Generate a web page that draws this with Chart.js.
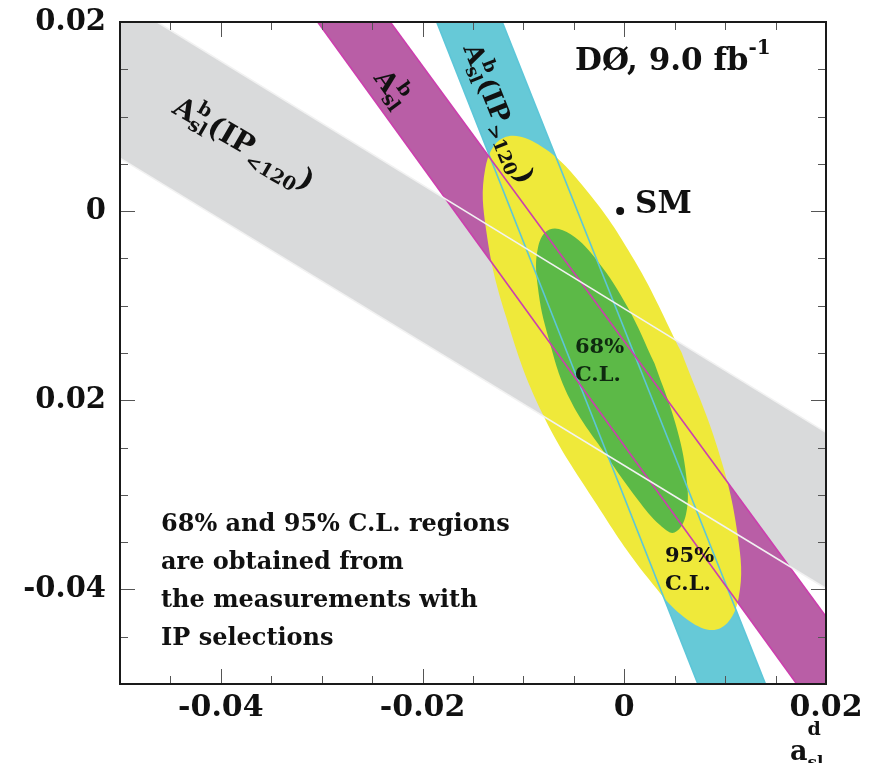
<!DOCTYPE html>
<html>
<head>
<meta charset="utf-8">
<title>a_sl^d vs a_sl^s</title>
<script src="https://cdn.jsdelivr.net/npm/chart.js@4.4.0/dist/chart.umd.min.js"></script>
<style>
  html, body { margin: 0; padding: 0; background: #fff; }
  #wrap { width: 878px; height: 763px; }
</style>
</head>
<body>
<div id="wrap"><canvas id="chart" width="878" height="763"></canvas></div>
<script>
// axis labels (major ticks); minor ticks every 0.005
const xTickValues = [-0.04, -0.02, 0, 0.02];
const xTickLabels = ['-0.04', '-0.02', '0', '0.02'];
const yTickValues = [0.02, 0, -0.02, -0.04];
const yTickLabels = ['0.02', '0', '0.02', '-0.04'];

// band edges, [x, y] where each edge leaves the frame
const ipLowUpper = [[-0.05, 0.0224], [0.02, -0.0234]];
const ipLowLower = [[-0.05, 0.0056], [0.02, -0.0399]];
const aslLeft = [[-0.0304, 0.02], [0.0171, -0.05]];
const aslRight = [[-0.0232, 0.02], [0.0249, -0.05]];
const ipHighLeft = [[-0.0186, 0.02], [0.0073, -0.05]];
const ipHighRight = [[-0.0121, 0.02], [0.0140, -0.05]];

// 95% C.L. contour
const cl95X = [0.00567, 0.00103, -0.00394, -0.00851, -0.01196, -0.01378, -0.01368, -0.01170,
               -0.00811, -0.00270, 0.00235, 0.00652, 0.00952, 0.01134, 0.01124, 0.00926];
const cl95Y = [-0.01493, -0.00524, 0.00246, 0.00704, 0.00776, 0.00454, -0.00213, -0.01125,
               -0.02142, -0.03107, -0.03879, -0.04338, -0.04410, -0.04089, -0.03421, -0.02510];

// 68% C.L. contour
const cl68X = [0.00300, 0.00031, -0.00263, -0.00532, -0.00741, -0.00856, -0.00858, -0.00748,
               -0.00543, -0.00181, 0.00136, 0.00354, 0.00498, 0.00612, 0.00614, 0.00505];
const cl68Y = [-0.01611, -0.01011, -0.00532, -0.00245, -0.00194, -0.00387, -0.00795, -0.01354,
               -0.01981, -0.02579, -0.03054, -0.03319, -0.03398, -0.03206, -0.02797, -0.02238];

// standard model prediction
const smPoint = [-0.00041, 0.00002];

const SERIF = 'DejaVu Serif';
function font(size) { return 'bold ' + size + 'px "' + SERIF + '", serif'; }

function pts(list) { return list.map(p => ({x: p[0], y: p[1]})); }
function band(a, b) { return pts(a.concat(b.slice().reverse())); }
function contour(xs, ys) {
  const p = xs.map((x, i) => ({x: x, y: ys[i]}));
  p.push(p[0]);
  return p;
}
function tickText(value, values, labels) {
  const i = values.findIndex(v => Math.abs(v - value) < 1e-9);
  return i < 0 ? '' : labels[i];
}

function area(data, color, order, tension) {
  return {
    data: data, showLine: true, fill: 'shape', backgroundColor: color,
    borderWidth: 0, pointRadius: 0, pointHoverRadius: 0,
    tension: tension || 0, order: order
  };
}
function edge(data, color) {
  return {
    data: pts(data), showLine: true, fill: false, borderColor: color,
    borderWidth: 1.6, pointRadius: 0, pointHoverRadius: 0, order: 1
  };
}

// text runs: [text, size, rise, hold]  (hold = don't advance, for stacked sub/sup)
function drawRuns(ctx, x, y, angle, runs, color) {
  ctx.save();
  ctx.translate(x, y);
  ctx.rotate(angle * Math.PI / 180);
  ctx.fillStyle = color || '#111';
  ctx.textBaseline = 'alphabetic';
  let cx = 0;
  for (const [text, size, rise, hold] of runs) {
    ctx.font = font(size);
    ctx.fillText(text, cx, -(rise || 0));
    if (!hold) cx += ctx.measureText(text).width;
  }
  ctx.restore();
}

const frame = {
  id: 'frame',
  afterDatasetsDraw(chart) {
    const {ctx, chartArea: a, scales: {x, y}} = chart;
    ctx.save();
    ctx.strokeStyle = '#555';
    ctx.lineWidth = 1;
    ctx.beginPath();
    x.ticks.forEach(t => {
      const px = Math.round(x.getPixelForValue(t.value)) + 0.5;
      const len = t.label ? 15 : 8;
      ctx.moveTo(px, a.bottom); ctx.lineTo(px, a.bottom - len);
      ctx.moveTo(px, a.top); ctx.lineTo(px, a.top + len);
    });
    y.ticks.forEach(t => {
      const py = Math.round(y.getPixelForValue(t.value)) + 0.5;
      const len = t.label ? 15 : 8;
      ctx.moveTo(a.left, py); ctx.lineTo(a.left + len, py);
      ctx.moveTo(a.right, py); ctx.lineTo(a.right - len, py);
    });
    ctx.stroke();
    ctx.strokeStyle = '#1a1a1a';
    ctx.lineWidth = 2;
    ctx.strokeRect(a.left, a.top, a.right - a.left, a.bottom - a.top);
    ctx.restore();
  },
  afterDraw(chart) {
    const ctx = chart.ctx;
    // band labels
    drawRuns(ctx, 171, 112, 30, [['A', 28], ['b', 19, 13, true], ['sl', 19, -6],
      ['(IP', 29], ['<120', 19, -9], [')', 29]]);
    drawRuns(ctx, 373, 78, 54, [['A', 27], ['b', 19, 13, true], ['sl', 19, -6]]);
    drawRuns(ctx, 463, 48, 68, [['A', 26], ['b', 18, 12, true], ['sl', 18, -6],
      ['(IP', 27], ['>120', 18, -8], [')', 27]]);

    drawRuns(ctx, 575, 70, 0, [['D\u00d8, 9.0 fb', 31], ['-1', 20, 16]]);
    drawRuns(ctx, 635, 213, 0, [['SM', 31]]);

    drawRuns(ctx, 575, 353, 0, [['68%', 21]], '#0f2a10');
    drawRuns(ctx, 575, 381, 0, [['C.L.', 21]], '#0f2a10');
    drawRuns(ctx, 665, 562, 0, [['95%', 21]]);
    drawRuns(ctx, 665, 590, 0, [['C.L.', 21]]);

    const note = ['68% and 95% C.L. regions', 'are obtained from',
                  'the measurements with', 'IP selections'];
    note.forEach((line, i) => drawRuns(ctx, 161, 531 + i * 38, 0, [[line, 24]]));

    // x axis title
    drawRuns(ctx, 790, 760, 0, [['a', 27], ['d', 19, 25, true], ['sl', 17, -8]]);
  }
};

new Chart(document.getElementById('chart'), {
  type: 'scatter',
  data: {
    datasets: [
      {
        data: [{x: smPoint[0], y: smPoint[1]}], showLine: false,
        pointRadius: 4, pointHoverRadius: 4, backgroundColor: '#111', borderWidth: 0, order: 0
      },
      edge(ipLowUpper, '#f2f2f2'),
      edge(ipLowLower, '#f2f2f2'),
      edge(aslLeft, '#cc3fae'),
      edge(aslRight, '#cc3fae'),
      edge(ipHighLeft, '#5cc6d8'),
      edge(ipHighRight, '#5cc6d8'),
      area(contour(cl68X, cl68Y), '#5cb947', 2, 0.4),
      area(contour(cl95X, cl95Y), '#efe93a', 3, 0.4),
      area(band(ipHighLeft, ipHighRight), '#66c9d7', 4),
      area(band(aslLeft, aslRight), '#b95ea6', 5),
      area(band(ipLowUpper, ipLowLower), '#d9dadb', 6)
    ]
  },
  options: {
    responsive: false,
    animation: false,
    events: [],
    layout: {padding: {top: 22, right: 52, left: 0, bottom: 0}},
    plugins: {legend: {display: false}, tooltip: {enabled: false}},
    scales: {
      x: {
        type: 'linear', min: -0.05, max: 0.02,
        grid: {display: false, drawTicks: false},
        border: {display: false},
        ticks: {
          stepSize: 0.005, autoSkip: false, maxRotation: 0, padding: 6, color: '#111',
          font: {family: SERIF, weight: 'bold', size: 30},
          callback: v => tickText(v, xTickValues, xTickLabels)
        },
        afterFit: s => { s.height = 79; s.paddingLeft = 0; s.paddingRight = 0; }
      },
      y: {
        type: 'linear', min: -0.05, max: 0.02,
        grid: {display: false, drawTicks: false},
        border: {display: false},
        ticks: {
          stepSize: 0.005, autoSkip: false, padding: 14, color: '#111',
          font: {family: SERIF, weight: 'bold', size: 29},
          callback: v => tickText(v, yTickValues, yTickLabels)
        },
        afterFit: s => { s.width = 120; s.paddingTop = 0; s.paddingBottom = 0; }
      }
    }
  },
  plugins: [frame]
});
</script>
</body>
</html>
